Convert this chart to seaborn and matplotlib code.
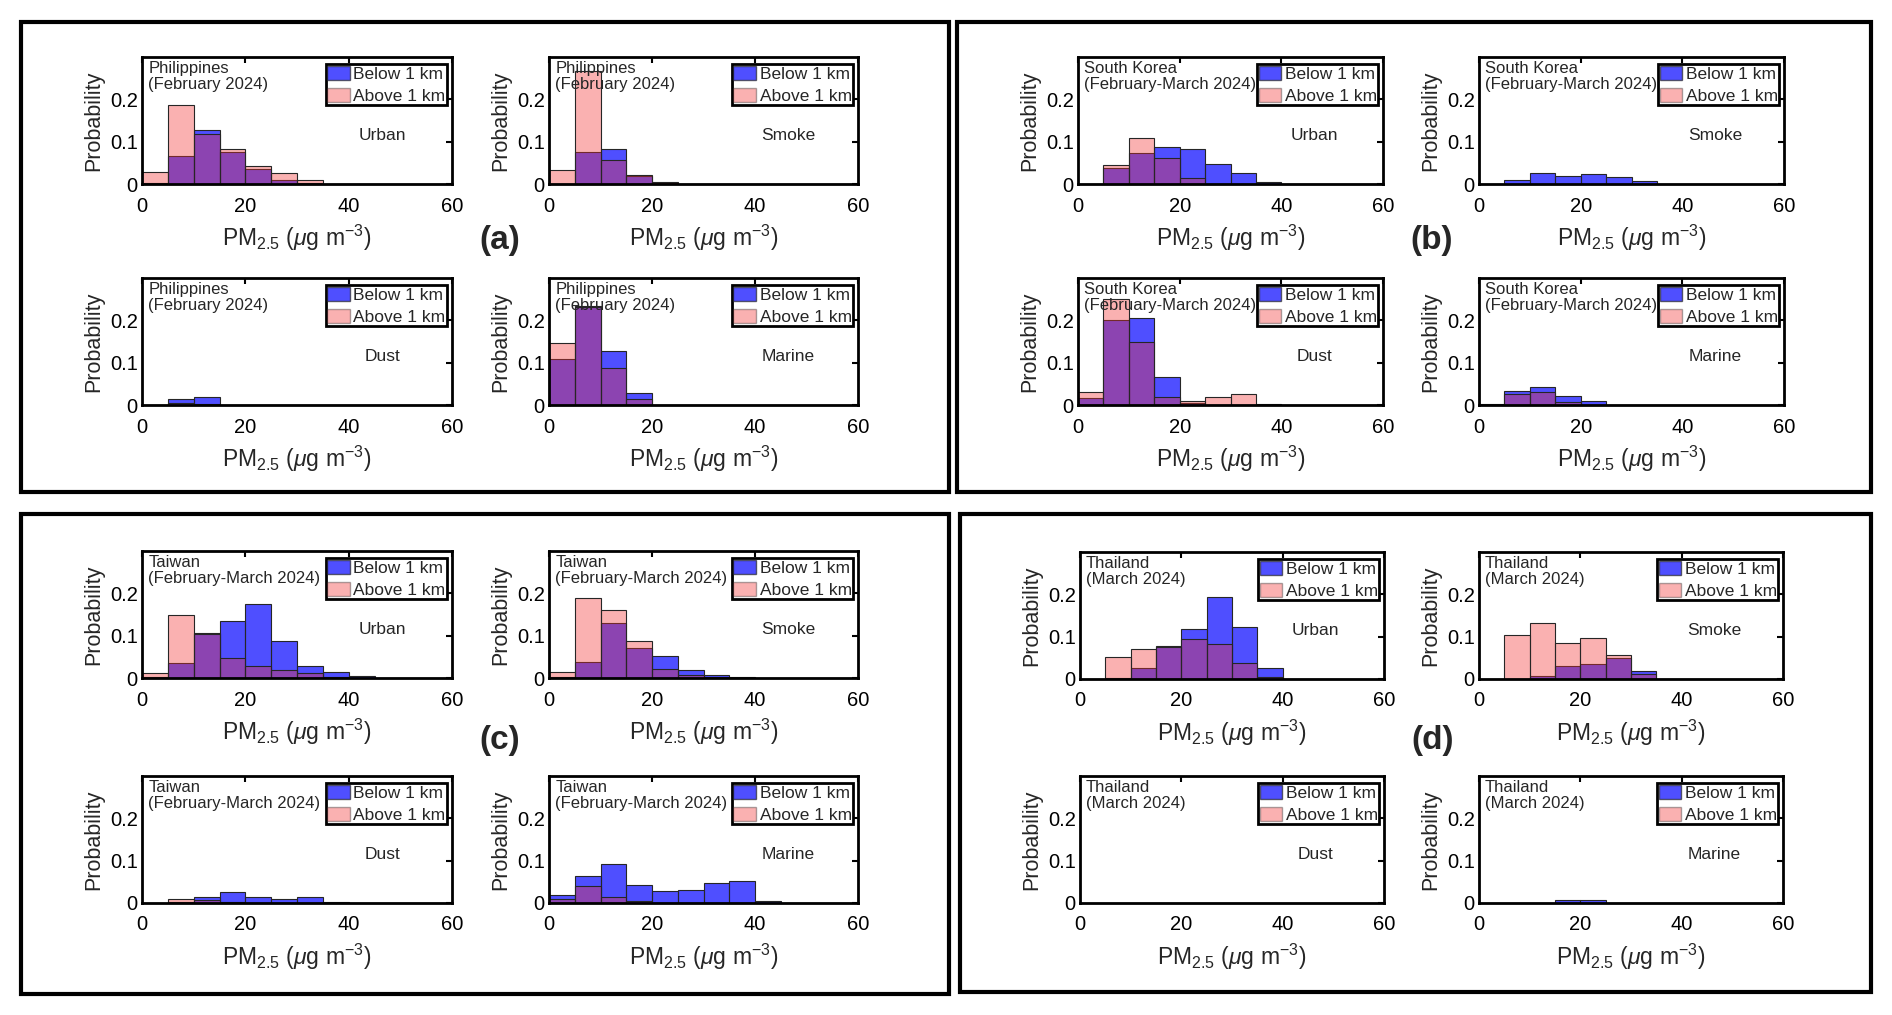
import numpy as np
import pandas as pd
import matplotlib
matplotlib.use('Agg')
import matplotlib.pyplot as plt
from matplotlib.patches import Patch, Rectangle
import seaborn as sns

# PM2.5 bins (ug m-3), 5-wide from 0 to 60
bin_edges = np.arange(0, 65, 5)
bin_centers = bin_edges[:-1] + 2.5

# probability per bin
# --- Philippines (February 2024)
ph_urban_below = [0.003, 0.067, 0.127, 0.075, 0.035, 0.010, 0.002, 0, 0, 0, 0, 0]
ph_urban_above = [0.028, 0.187, 0.118, 0.082, 0.043, 0.025, 0.010, 0, 0, 0, 0, 0]
ph_smoke_below = [0, 0.075, 0.083, 0.018, 0.002, 0.001, 0, 0, 0, 0, 0, 0]
ph_smoke_above = [0.032, 0.268, 0.057, 0.022, 0.004, 0.001, 0, 0, 0, 0, 0, 0]
ph_dust_below = [0, 0.015, 0.018, 0, 0, 0, 0, 0, 0, 0, 0, 0]
ph_dust_above = [0, 0.005, 0.002, 0, 0, 0, 0, 0, 0, 0, 0, 0]
ph_marine_below = [0.108, 0.235, 0.128, 0.028, 0, 0, 0, 0, 0, 0, 0, 0]
ph_marine_above = [0.147, 0.232, 0.088, 0.013, 0, 0, 0, 0, 0, 0, 0, 0]

# --- South Korea (February-March 2024)
kr_urban_below = [0, 0.038, 0.073, 0.088, 0.083, 0.047, 0.025, 0.005, 0, 0, 0, 0]
kr_urban_above = [0, 0.045, 0.108, 0.062, 0.013, 0, 0, 0, 0, 0, 0, 0]
kr_smoke_below = [0, 0.010, 0.027, 0.018, 0.023, 0.016, 0.007, 0, 0, 0, 0, 0]
kr_smoke_above = [0, 0, 0, 0, 0, 0, 0, 0, 0, 0, 0, 0]
kr_dust_below = [0.017, 0.200, 0.205, 0.065, 0.005, 0, 0, 0.002, 0, 0, 0, 0]
kr_dust_above = [0.030, 0.250, 0.150, 0.020, 0.010, 0.020, 0.027, 0, 0, 0, 0, 0]
kr_marine_below = [0.002, 0.032, 0.043, 0.022, 0.010, 0, 0, 0, 0, 0, 0, 0]
kr_marine_above = [0, 0.025, 0.030, 0.007, 0, 0, 0, 0, 0, 0, 0, 0]

# --- Taiwan (February-March 2024)
tw_urban_below = [0.003, 0.035, 0.107, 0.135, 0.175, 0.088, 0.028, 0.015, 0.004, 0, 0, 0]
tw_urban_above = [0.012, 0.148, 0.105, 0.047, 0.028, 0.018, 0.012, 0.003, 0, 0, 0, 0]
tw_smoke_below = [0.003, 0.037, 0.130, 0.072, 0.052, 0.020, 0.008, 0.002, 0, 0, 0, 0]
tw_smoke_above = [0.013, 0.188, 0.160, 0.087, 0.022, 0.008, 0.003, 0, 0, 0, 0, 0]
tw_dust_below = [0, 0.002, 0.015, 0.027, 0.013, 0.010, 0.014, 0.002, 0, 0, 0, 0]
tw_dust_above = [0, 0.010, 0.008, 0.003, 0.001, 0, 0, 0, 0, 0, 0, 0]
tw_marine_below = [0.018, 0.063, 0.092, 0.042, 0.028, 0.030, 0.048, 0.051, 0.004, 0, 0, 0]
tw_marine_above = [0.010, 0.040, 0.015, 0.005, 0, 0, 0, 0, 0, 0, 0, 0]

# --- Thailand (March 2024)
th_urban_below = [0, 0.002, 0.025, 0.077, 0.118, 0.193, 0.124, 0.027, 0.001, 0, 0, 0]
th_urban_above = [0, 0.053, 0.070, 0.075, 0.095, 0.082, 0.037, 0.004, 0, 0, 0, 0]
th_smoke_below = [0, 0, 0.008, 0.030, 0.035, 0.050, 0.020, 0, 0, 0, 0, 0]
th_smoke_above = [0, 0.103, 0.133, 0.085, 0.097, 0.057, 0.012, 0, 0, 0, 0, 0]
th_dust_below = [0, 0, 0, 0, 0, 0, 0, 0, 0, 0, 0, 0]
th_dust_above = [0, 0, 0, 0, 0, 0, 0, 0, 0, 0, 0, 0]
th_marine_below = [0, 0, 0, 0.008, 0.007, 0.001, 0, 0, 0, 0, 0, 0]
th_marine_above = [0, 0, 0, 0, 0, 0, 0, 0, 0, 0, 0, 0]

regions = ['Philippines', 'South Korea', 'Taiwan', 'Thailand']
periods = ['(February 2024)', '(February-March 2024)', '(February-March 2024)', '(March 2024)']
panel_letters = ['(a)', '(b)', '(c)', '(d)']
aerosols = ['Urban', 'Smoke', 'Dust', 'Marine']
series_labels = ['Below 1 km', 'Above 1 km']
x_ticks = [0, 20, 40, 60]
y_ticks = [0, 0.1, 0.2]
y_tick_labels = ['0', '0.1', '0.2']

hist_data = {
    'Philippines': [(ph_urban_below, ph_urban_above), (ph_smoke_below, ph_smoke_above),
                    (ph_dust_below, ph_dust_above), (ph_marine_below, ph_marine_above)],
    'South Korea': [(kr_urban_below, kr_urban_above), (kr_smoke_below, kr_smoke_above),
                    (kr_dust_below, kr_dust_above), (kr_marine_below, kr_marine_above)],
    'Taiwan': [(tw_urban_below, tw_urban_above), (tw_smoke_below, tw_smoke_above),
               (tw_dust_below, tw_dust_above), (tw_marine_below, tw_marine_above)],
    'Thailand': [(th_urban_below, th_urban_above), (th_smoke_below, th_smoke_above),
                 (th_dust_below, th_dust_above), (th_marine_below, th_marine_above)],
}

sns.set_theme(style='white')
plt.rcParams['font.family'] = ['Liberation Sans', 'DejaVu Sans']
plt.rcParams['mathtext.fontset'] = 'custom'
plt.rcParams['mathtext.rm'] = 'Liberation Sans'
plt.rcParams['mathtext.it'] = 'Liberation Sans:italic'

blue_c, blue_a = (0.0, 0.0, 1.0), 0.69
red_c, red_a = (0.95, 0.2, 0.2), 0.38
edge_c = (0.15, 0.15, 0.15)

W, H = 1892, 1015
fig = plt.figure(figsize=(W / 100, H / 100), dpi=100)
fig.patch.set_facecolor('white')


def px_axes(x0, y0, w, h):
    # pixel box (top-left origin) -> figure fraction
    return fig.add_axes([x0 / W, 1 - (y0 + h) / H, w / W, h / H])


# layout in pixels
group_boxes = [(21, 22, 928, 470), (957, 22, 914, 470), (21, 514, 928, 480), (960, 514, 911, 478)]
col_x = [[142, 549], [1078, 1479], [142, 549], [1080, 1479]]
col_w = [[310, 309], [305, 305], [310, 309], [304, 304]]
row_y = [[57, 278], [57, 278], [551, 776], [552, 776]]
row_h = 127
letter_pos = [(500, 241), (1432, 241), (500, 740), (1433, 740)]

for g, region in enumerate(regions):
    bx, by, bw, bh = group_boxes[g]
    fig.patches.append(Rectangle((bx / W, 1 - (by + bh) / H), bw / W, bh / H,
                                 transform=fig.transFigure, fill=False,
                                 edgecolor='black', linewidth=3))
    fig.text(letter_pos[g][0] / W, 1 - letter_pos[g][1] / H, panel_letters[g],
             fontsize=24, fontweight='bold', ha='center', va='center')

    for k, aerosol in enumerate(aerosols):
        r, c = divmod(k, 2)
        ax = px_axes(col_x[g][c], row_y[g][r], col_w[g][c], row_h)
        below, above = hist_data[region][k]

        for vals, col, a in [(below, blue_c, blue_a), (above, red_c, red_a)]:
            df = pd.DataFrame({'pm': bin_centers, 'prob': np.asarray(vals, dtype=float)})
            df = df[df['prob'] > 0]
            if len(df):
                sns.histplot(data=df, x='pm', weights='prob', binwidth=5, binrange=(0, 60),
                             color=col, alpha=a, edgecolor=edge_c, linewidth=0.8, ax=ax)

        ax.set_xlim(0, 60)
        ax.set_ylim(0, 0.3)
        ax.set_xticks(x_ticks)
        ax.set_yticks(y_ticks)
        ax.set_yticklabels(y_tick_labels)
        ax.tick_params(direction='in', top=True, right=True, length=4, width=1.5,
                       labelsize=14.5, colors='black')
        ax.tick_params(axis='x', pad=9)
        ax.tick_params(axis='y', pad=3)
        for sp in ax.spines.values():
            sp.set_linewidth(2)
            sp.set_color('black')
        ax.set_xlabel(r'PM$_{2.5}$ ($\mu$g m$^{-3}$)', fontsize=16.5, labelpad=5)
        ax.set_ylabel('Probability', fontsize=15.5, labelpad=4)

        ax.text(0.02, 0.965, region + '\n' + periods[g], transform=ax.transAxes,
                ha='left', va='top', fontsize=12, linespacing=1.05)
        ax.text(46.5, 0.114, aerosol, ha='center', va='center', fontsize=12.5)

        handles = [Patch(facecolor=blue_c, alpha=blue_a, edgecolor=edge_c),
                   Patch(facecolor=red_c, alpha=red_a, edgecolor=edge_c)]
        leg = ax.legend(handles, series_labels, loc='upper right', fontsize=12.5,
                        frameon=True, fancybox=False, framealpha=1,
                        bbox_to_anchor=(0.985, 0.945),
                        borderaxespad=0, borderpad=0.1, labelspacing=0.35,
                        handlelength=1.3, handleheight=0.85, handletextpad=0.2)
        leg.get_frame().set_edgecolor('black')
        leg.get_frame().set_linewidth(2)

fig.savefig('out.png', dpi=100, facecolor='white')
